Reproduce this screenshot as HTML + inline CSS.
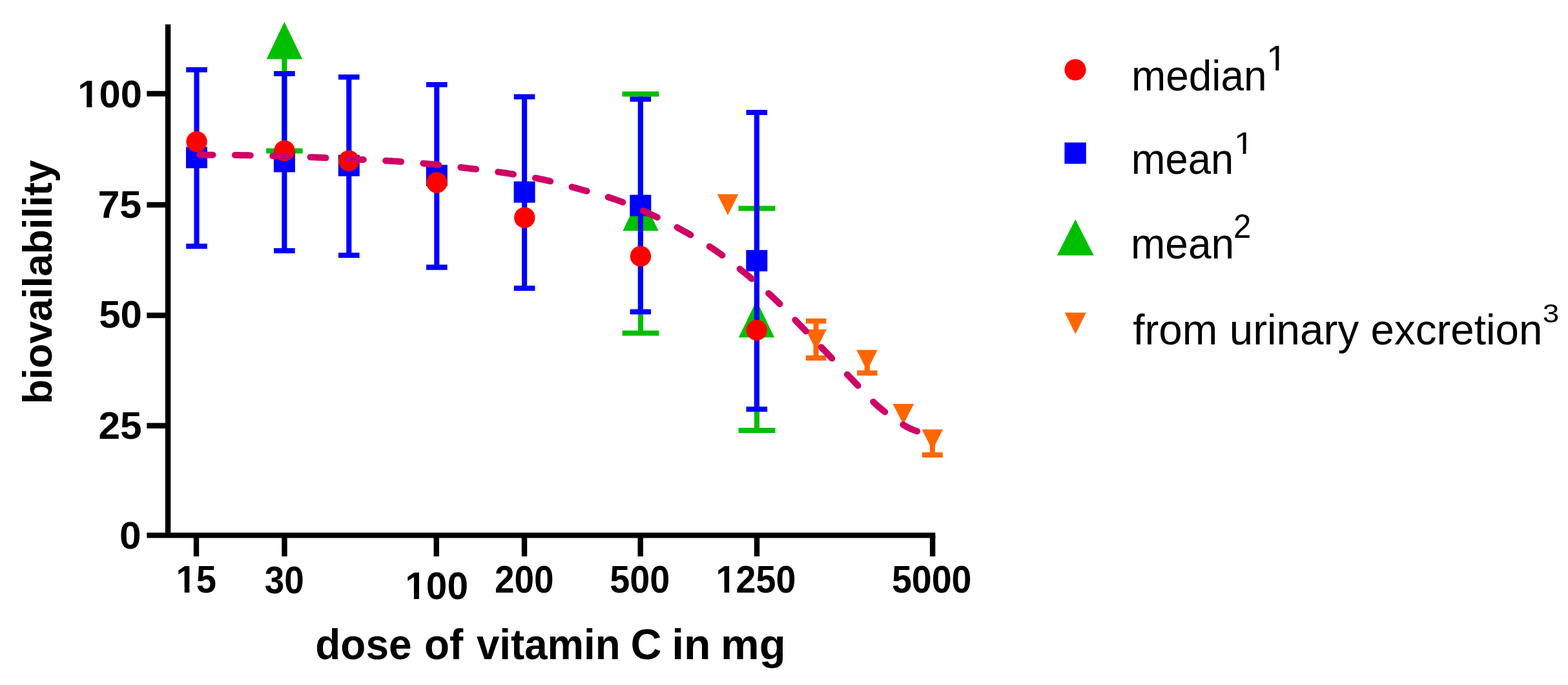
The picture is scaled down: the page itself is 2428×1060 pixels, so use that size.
<!DOCTYPE html>
<html><head><meta charset="utf-8"><title>Vitamin C bioavailability</title>
<style>
html,body{margin:0;padding:0;background:#fff;}
svg{display:block;}
text{font-family:"Liberation Sans",Arial,sans-serif;fill:#000;}
</style></head>
<body>
<svg width="2428" height="1060" viewBox="0 0 2428 1060">
<defs><clipPath id="c0"><path clip-rule="evenodd" d="M-50,-118.6 H148.939501953125 V59.3 H-50 Z M2.24,-7.85 H13.84 V2.96 H2.24 Z M21.98,-7.85 H32.83 V2.96 H21.98 Z"/></clipPath><clipPath id="c1"><path clip-rule="evenodd" d="M-50,-118.6 H115.95966796875 V59.3 H-50 Z M2.24,-7.85 H13.84 V2.96 H2.24 Z M21.98,-7.85 H32.83 V2.96 H21.98 Z"/></clipPath><clipPath id="c2"><path clip-rule="evenodd" d="M-50,-118.6 H148.939501953125 V59.3 H-50 Z M2.24,-7.85 H13.84 V2.96 H2.24 Z M21.98,-7.85 H32.83 V2.96 H21.98 Z"/></clipPath><clipPath id="c3"><path clip-rule="evenodd" d="M-50,-118.6 H181.9193359375 V59.3 H-50 Z M2.24,-7.85 H13.84 V2.96 H2.24 Z M21.98,-7.85 H32.83 V2.96 H21.98 Z"/></clipPath><clipPath id="c4"><path clip-rule="evenodd" d="M-50,-109.30232558139537 H80.39437227470931 V54.65116279069768 H-50 Z M2.66,-5.88 H13.74 V2.73 H2.66 Z M18.57,-5.88 H29.23 V2.73 H18.57 Z"/></clipPath><clipPath id="c5"><path clip-rule="evenodd" d="M-50,-94.47674418604652 H76.27173135446948 V47.23837209302326 H-50 Z M2.10,-5.33 H11.88 V2.36 H2.10 Z M16.05,-5.33 H25.47 V2.36 H16.05 Z"/></clipPath></defs>
<rect width="2428" height="1060" fill="#fff"/>
<path d="M260.1,37.8 V832.6 M227.4,828.4 H1448.3" stroke="#000" stroke-width="8.4" fill="none"/>
<path d="M227.4,145 H260 M227.4,317 H260 M227.4,488 H260 M227.4,658.75 H260" stroke="#000" stroke-width="8.4" fill="none"/>
<path d="M304,828 V861 M440.5,828 V861 M675.8,828 V861 M812,828 V861 M991.7,828 V861 M1172,828 V861 M1444.1,828 V861" stroke="#000" stroke-width="8.4" fill="none"/>
<path d="M440.4,62 V233.5 M412.2,233.5 H468.59999999999997" stroke="#00bf00" stroke-width="8.1" fill="none"/>
<path d="M440.4,33.8 L468.15,91.5 L412.65,91.5Z" fill="#00bf00"/>
<path d="M992,145.5 V515.5 M963.6,145.5 H1020.4 M963.6,515.5 H1020.4" stroke="#00bf00" stroke-width="8.1" fill="none"/>
<path d="M992,299.8 L1019.7,357.3 L964.3,357.3Z" fill="#00bf00"/>
<path d="M1172,322.5 V666 M1143.6,322.5 H1200.4 M1143.6,666 H1200.4" stroke="#00bf00" stroke-width="8.1" fill="none"/>
<path d="M1171.5,465 L1199.2,522.2 L1143.8,522.2Z" fill="#00bf00"/>
<path d="M304.5,108 V381 M288.2,108 H320.8 M288.2,381 H320.8" stroke="#0000ff" stroke-width="8.1" fill="none"/>
<rect x="288.0" y="227.3" width="33" height="33" fill="#0000ff"/>
<path d="M440.4,114 V388 M424.09999999999997,114 H456.7 M424.09999999999997,388 H456.7" stroke="#0000ff" stroke-width="8.1" fill="none"/>
<rect x="423.9" y="233.5" width="33" height="33" fill="#0000ff"/>
<path d="M540.3,119.3 V395 M524.0,119.3 H556.5999999999999 M524.0,395 H556.5999999999999" stroke="#0000ff" stroke-width="8.1" fill="none"/>
<rect x="523.8" y="239.7" width="33" height="33" fill="#0000ff"/>
<path d="M676.3,131 V413.6 M660.0,131 H692.5999999999999 M660.0,413.6 H692.5999999999999" stroke="#0000ff" stroke-width="8.1" fill="none"/>
<rect x="659.8" y="255.0" width="33" height="33" fill="#0000ff"/>
<path d="M812.1,149.7 V446 M795.8000000000001,149.7 H828.4 M795.8000000000001,446 H828.4" stroke="#0000ff" stroke-width="8.1" fill="none"/>
<rect x="795.6" y="280.7" width="33" height="33" fill="#0000ff"/>
<path d="M991.8,153.5 V482.5 M975.5,153.5 H1008.0999999999999 M975.5,482.5 H1008.0999999999999" stroke="#0000ff" stroke-width="8.1" fill="none"/>
<rect x="975.3" y="301.5" width="33" height="33" fill="#0000ff"/>
<path d="M1171.8,174 V633.3 M1155.5,174 H1188.1 M1155.5,633.3 H1188.1" stroke="#0000ff" stroke-width="8.1" fill="none"/>
<rect x="1155.3" y="386.9" width="33" height="33" fill="#0000ff"/>
<circle cx="304.6" cy="219.3" r="16.2" fill="#ff0000"/>
<circle cx="440.5" cy="233.2" r="16.2" fill="#ff0000"/>
<circle cx="540.3" cy="248.7" r="16.2" fill="#ff0000"/>
<circle cx="676.5" cy="282.5" r="16.2" fill="#ff0000"/>
<circle cx="812.3" cy="336.8" r="16.2" fill="#ff0000"/>
<circle cx="992" cy="396.6" r="16.2" fill="#ff0000"/>
<circle cx="1171.6" cy="510.9" r="16.2" fill="#ff0000"/>
<path d="M1110.7,300.5 L1143.3,300.5 L1127,333Z" fill="#ff6600"/>
<path d="M1263.6,496.8 V554 M1247.8999999999999,496.8 H1279.3 M1247.8999999999999,554 H1279.3" stroke="#ff6600" stroke-width="8.1" fill="none"/>
<path d="M1247.3,509.8 L1279.8999999999999,509.8 L1263.6,541.5Z" fill="#ff6600"/>
<path d="M1342.8,557 V577.3 M1327.1,577.3 H1358.5" stroke="#ff6600" stroke-width="8.1" fill="none"/>
<path d="M1326.3,541.5 L1358.8999999999999,541.5 L1342.6,573.5Z" fill="#ff6600"/>
<path d="M1382.5,625 L1415.1,625 L1398.8,657Z" fill="#ff6600"/>
<path d="M1443.8,680 V704 M1427.8,704 H1459.8" stroke="#ff6600" stroke-width="8.1" fill="none"/>
<path d="M1427.5,664.6 L1460.1,664.6 L1443.8,696.6Z" fill="#ff6600"/>
<path d="M309.50,239.60 L312.83,239.63 L316.16,239.66 L319.50,239.68 L322.85,239.71 L326.20,239.73 L329.55,239.75 L332.91,239.77 L336.26,239.80 L339.62,239.82 L342.97,239.84 L346.31,239.87 L349.65,239.89 L352.98,239.92 L356.29,239.95 L359.60,239.99 L362.89,240.02 L366.17,240.06 L369.43,240.10 L372.68,240.15 L375.90,240.20 L378.90,240.25 L381.89,240.30 L384.86,240.36 L387.82,240.42 L390.76,240.48 L393.69,240.54 L396.61,240.60 L399.52,240.67 L402.42,240.74 L405.32,240.81 L408.21,240.88 L411.10,240.95 L413.99,241.03 L416.88,241.10 L419.77,241.18 L422.66,241.26 L425.56,241.34 L428.47,241.43 L431.38,241.51 L434.30,241.60 L437.24,241.69 L440.19,241.78 L443.13,241.87 L446.08,241.96 L449.03,242.06 L451.98,242.16 L454.93,242.26 L457.88,242.36 L460.83,242.46 L463.78,242.56 L466.73,242.67 L469.68,242.78 L472.63,242.88 L475.58,243.00 L478.53,243.11 L481.48,243.22 L484.42,243.34 L487.37,243.46 L490.31,243.58 L493.25,243.70 L496.17,243.82 L499.10,243.95 L502.02,244.08 L504.94,244.21 L507.86,244.35 L510.78,244.48 L513.69,244.62 L516.61,244.76 L519.53,244.91 L522.44,245.05 L525.36,245.19 L528.27,245.34 L531.19,245.48 L534.10,245.63 L537.02,245.78 L539.93,245.92 L542.85,246.07 L545.77,246.21 L548.68,246.36 L551.60,246.50 L554.52,246.64 L557.44,246.78 L560.36,246.91 L563.28,247.05 L566.20,247.18 L569.13,247.31 L572.05,247.44 L574.97,247.57 L577.89,247.70 L580.81,247.84 L583.74,247.97 L586.66,248.11 L589.58,248.25 L592.50,248.40 L595.42,248.55 L598.34,248.71 L601.25,248.87 L604.17,249.04 L607.09,249.22 L610.00,249.40 L612.91,249.59 L615.81,249.78 L618.71,249.98 L621.61,250.18 L624.52,250.38 L627.42,250.59 L630.31,250.81 L633.21,251.02 L636.11,251.24 L639.01,251.47 L641.91,251.70 L644.80,251.94 L647.70,252.18 L650.60,252.42 L653.50,252.67 L656.40,252.93 L659.30,253.19 L662.20,253.45 L665.10,253.72 L668.00,254.00 L670.92,254.28 L673.84,254.58 L676.76,254.87 L679.68,255.18 L682.60,255.49 L685.52,255.81 L688.44,256.13 L691.36,256.46 L694.28,256.79 L697.21,257.13 L700.13,257.46 L703.05,257.81 L705.97,258.15 L708.89,258.50 L711.81,258.85 L714.73,259.20 L717.65,259.55 L720.57,259.90 L723.48,260.25 L726.40,260.60 L729.31,260.95 L732.22,261.30 L735.13,261.64 L738.04,261.99 L740.96,262.33 L743.87,262.68 L746.78,263.02 L749.69,263.37 L752.60,263.73 L755.51,264.08 L758.42,264.44 L761.32,264.81 L764.23,265.18 L767.13,265.56 L770.03,265.94 L772.93,266.34 L775.83,266.74 L778.72,267.15 L781.61,267.57 L784.50,268.00 L787.37,268.43 L790.23,268.87 L793.10,269.31 L795.96,269.76 L798.82,270.21 L801.68,270.66 L804.54,271.12 L807.40,271.59 L810.25,272.06 L813.10,272.54 L815.95,273.04 L818.80,273.54 L821.65,274.05 L824.49,274.57 L827.33,275.11 L830.17,275.66 L833.01,276.22 L835.84,276.80 L838.67,277.39 L841.50,278.00 L844.33,278.63 L847.16,279.27 L849.98,279.94 L852.81,280.62 L855.63,281.31 L858.44,282.02 L861.26,282.74 L864.07,283.47 L866.88,284.21 L869.69,284.96 L872.50,285.72 L875.30,286.49 L878.10,287.26 L880.91,288.03 L883.71,288.81 L886.51,289.59 L889.31,290.37 L892.10,291.15 L894.90,291.93 L897.70,292.70 L900.49,293.47 L903.29,294.23 L906.09,294.99 L908.88,295.75 L911.68,296.50 L914.48,297.26 L917.28,298.02 L920.07,298.78 L922.87,299.55 L925.66,300.33 L928.45,301.11 L931.23,301.91 L934.01,302.72 L936.78,303.55 L939.55,304.39 L942.32,305.25 L945.07,306.13 L947.82,307.03 L950.57,307.95 L953.30,308.90 L956.03,309.87 L958.76,310.87 L961.48,311.88 L964.20,312.90 L966.91,313.95 L969.61,315.01 L972.31,316.09 L975.01,317.18 L977.70,318.29 L980.38,319.41 L983.06,320.54 L985.74,321.69 L988.41,322.84 L991.08,324.01 L993.74,325.19 L996.40,326.37 L999.06,327.57 L1001.71,328.77 L1004.36,329.98 L1007.00,331.20 L1009.65,332.43 L1012.30,333.67 L1014.94,334.92 L1017.59,336.19 L1020.22,337.46 L1022.86,338.74 L1025.49,340.04 L1028.12,341.34 L1030.74,342.66 L1033.35,343.98 L1035.96,345.32 L1038.57,346.67 L1041.17,348.02 L1043.77,349.39 L1046.35,350.77 L1048.94,352.15 L1051.51,353.55 L1054.08,354.96 L1056.64,356.37 L1059.20,357.80 L1061.75,359.23 L1064.29,360.68 L1066.83,362.13 L1069.37,363.59 L1071.91,365.05 L1074.44,366.53 L1076.96,368.02 L1079.48,369.52 L1081.99,371.03 L1084.49,372.55 L1086.99,374.08 L1089.48,375.62 L1091.95,377.17 L1094.42,378.74 L1096.88,380.32 L1099.33,381.91 L1101.77,383.51 L1104.19,385.13 L1106.60,386.76 L1109.00,388.40 L1111.36,390.04 L1113.71,391.70 L1116.05,393.38 L1118.37,395.06 L1120.68,396.77 L1122.98,398.48 L1125.26,400.20 L1127.54,401.94 L1129.81,403.69 L1132.07,405.45 L1134.33,407.22 L1136.58,409.00 L1138.83,410.79 L1141.07,412.58 L1143.31,414.38 L1145.55,416.20 L1147.78,418.01 L1150.02,419.84 L1152.26,421.67 L1154.50,423.50 L1156.79,425.38 L1159.07,427.26 L1161.36,429.15 L1163.65,431.06 L1165.94,432.97 L1168.23,434.89 L1170.52,436.82 L1172.80,438.75 L1175.07,440.70 L1177.35,442.65 L1179.61,444.61 L1181.87,446.58 L1184.11,448.56 L1186.35,450.54 L1188.58,452.53 L1190.79,454.53 L1192.99,456.54 L1195.18,458.55 L1197.35,460.57 L1199.50,462.60 L1201.60,464.60 L1203.68,466.62 L1205.75,468.65 L1207.80,470.69 L1209.83,472.74 L1211.86,474.79 L1213.87,476.86 L1215.87,478.93 L1217.86,481.01 L1219.85,483.09 L1221.83,485.18 L1223.81,487.27 L1225.79,489.37 L1227.77,491.46 L1229.74,493.55 L1231.72,495.65 L1233.71,497.74 L1235.70,499.83 L1237.69,501.92 L1239.70,504.00 L1241.72,506.09 L1243.74,508.18 L1245.76,510.28 L1247.78,512.37 L1249.80,514.47 L1251.82,516.57 L1253.84,518.66 L1255.87,520.76 L1257.89,522.86 L1259.91,524.96 L1261.93,527.07 L1263.95,529.17 L1265.97,531.27 L1267.99,533.37 L1270.01,535.48 L1272.03,537.58 L1274.05,539.69 L1276.07,541.79 L1278.08,543.90 L1280.10,546.00 L1282.12,548.11 L1284.13,550.22 L1286.15,552.33 L1288.16,554.44 L1290.18,556.55 L1292.19,558.67 L1294.20,560.78 L1296.22,562.90 L1298.23,565.01 L1300.24,567.13 L1302.25,569.24 L1304.27,571.36 L1306.28,573.47 L1308.29,575.58 L1310.31,577.69 L1312.32,579.80 L1314.34,581.90 L1316.36,584.00 L1318.38,586.10 L1320.40,588.20 L1322.41,590.29 L1324.40,592.40 L1326.38,594.52 L1328.35,596.65 L1330.32,598.79 L1332.28,600.93 L1334.24,603.07 L1336.21,605.21 L1338.18,607.34 L1340.15,609.46 L1342.13,611.58 L1344.13,613.68 L1346.14,615.76 L1348.16,617.82 L1350.21,619.86 L1352.27,621.87 L1354.36,623.85 L1356.48,625.80 L1358.62,627.72 L1360.80,629.60 L1363.01,631.46 L1365.25,633.32 L1367.54,635.19 L1369.85,637.05 L1372.19,638.90 L1374.55,640.74 L1376.93,642.56 L1379.33,644.36 L1381.74,646.13 L1384.16,647.87 L1386.58,649.57 L1389.01,651.23 L1391.43,652.85 L1393.85,654.41 L1396.25,655.92 L1398.65,657.38 L1401.02,658.77 L1403.37,660.08 L1405.70,661.33 L1408.00,662.50 L1409.85,663.38 L1411.68,664.20 L1413.51,664.96 L1415.33,665.67 L1417.14,666.33 L1418.95,666.95 L1420.75,667.53 L1422.55,668.08 L1424.34,668.60 L1426.13,669.10 L1427.91,669.58 L1429.70,670.05 L1431.48,670.52 L1433.26,670.98 L1435.05,671.44 L1436.83,671.92 L1438.62,672.40 L1440.41,672.91 L1442.20,673.44 L1444.00,674.00" fill="none" stroke="#cf0066" stroke-width="10" stroke-linecap="round" stroke-dasharray="24.0 34.35" stroke-dashoffset="-54.40"/>
<circle cx="1665" cy="108" r="16.6" fill="#ff0000"/>
<rect x="1648.4" y="220.5" width="33.4" height="33" fill="#0000ff"/>
<path d="M1665.2,339.4 L1693.6000000000001,395.2 L1636.8,395.2Z" fill="#00bf00"/>
<path d="M1648.75,483.7 L1681.85,483.7 L1665.3,517.1Z" fill="#ff6600"/>
<text transform="translate(120.23,166.41) scale(1.0081,1)" font-size="59.30" font-weight="bold" clip-path="url(#c0)">100</text>
<text transform="translate(151.38,336.91) scale(1.0287,1)" font-size="59.30" font-weight="bold">75</text>
<text transform="translate(153.14,506.91) scale(1.0134,1)" font-size="59.30" font-weight="bold">50</text>
<text transform="translate(152.38,679.41) scale(1.0208,1)" font-size="59.30" font-weight="bold">25</text>
<text transform="translate(185.08,849.21) scale(1.0189,1)" font-size="59.30" font-weight="bold">0</text>
<text transform="translate(272.55,917.01) scale(0.9497,1)" font-size="59.30" font-weight="bold" clip-path="url(#c1)">15</text>
<text transform="translate(409.64,917.81) scale(0.9268,1)" font-size="59.30" font-weight="bold">30</text>
<text transform="translate(627.21,926.91) scale(0.9887,1)" font-size="59.30" font-weight="bold" clip-path="url(#c2)">100</text>
<text transform="translate(765.98,917.31) scale(0.9269,1)" font-size="59.30" font-weight="bold">200</text>
<text transform="translate(944.17,917.31) scale(0.9414,1)" font-size="59.30" font-weight="bold">500</text>
<text transform="translate(1108.59,917.31) scale(0.9386,1)" font-size="59.30" font-weight="bold" clip-path="url(#c3)">1250</text>
<text transform="translate(1380.88,917.31) scale(0.9372,1)" font-size="59.30" font-weight="bold">5000</text>
<text transform="translate(488.28,1020.40) scale(0.9491,1)" font-size="67.40" font-weight="bold">dose</text>
<text transform="translate(657.01,1020.40) scale(0.9471,1)" font-size="67.40" font-weight="bold">of</text>
<text transform="translate(737.95,1020.40) scale(0.9438,1)" font-size="67.40" font-weight="bold">vitamin</text>
<text transform="translate(976.48,1020.40) scale(0.9846,1)" font-size="67.40" font-weight="bold">C</text>
<text transform="translate(1040.25,1020.40) scale(1.0074,1)" font-size="67.40" font-weight="bold">in</text>
<text transform="translate(1116.08,1020.40) scale(0.9942,1)" font-size="67.40" font-weight="bold">mg</text>
<text transform="translate(79.5,625.37) rotate(-90) scale(0.9779,1)" font-size="63.8" font-weight="bold">biovailability</text>
<text transform="translate(1752.03,140.20) scale(0.9654,1)" font-size="66.20" font-weight="normal">median</text>
<text transform="translate(1751.82,268.50) scale(0.9561,1)" font-size="66.20" font-weight="normal">mean</text>
<text transform="translate(1750.97,400.00) scale(0.9675,1)" font-size="66.20" font-weight="normal">mean</text>
<text transform="translate(1754.28,533.00) scale(0.9910,1)" font-size="66.20" font-weight="normal">from urinary excretion</text>
<text transform="translate(1960.63,109.30) scale(1.0589,1)" font-size="54.65" font-weight="normal" clip-path="url(#c4)">1</text>
<text transform="translate(1910.67,237.50) scale(1.1729,1)" font-size="47.24" font-weight="normal" clip-path="url(#c5)">1</text>
<text transform="translate(1909.94,368.00) scale(0.9659,1)" font-size="50.86" font-weight="normal">2</text>
<text transform="translate(2388.85,499.00) scale(1.1070,1)" font-size="41.55" font-weight="normal">3</text>
</svg>
</body></html>
